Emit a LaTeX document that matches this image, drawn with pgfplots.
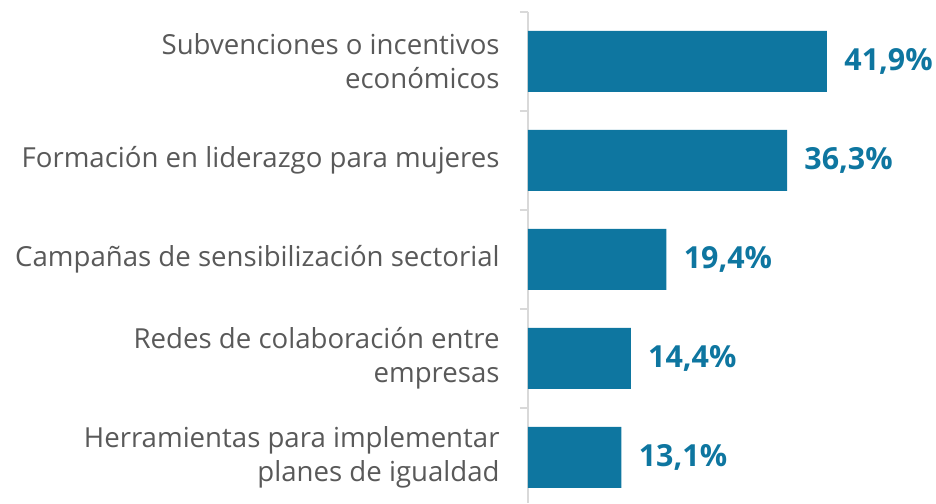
\documentclass[border=0pt]{standalone}
\usepackage{pgfplots}
\pgfplotsset{compat=1.18}
\usepackage{fontspec}
\setmainfont{Open Sans}
\definecolor{barblue}{RGB}{14,118,160}
\definecolor{txtgray}{RGB}{89,89,89}
\definecolor{axgray}{RGB}{217,217,217}
\begin{document}
\begin{tikzpicture}
\begin{axis}[
  at={(0,0)}, anchor=south west,
  scale only axis,
  width=178.4pt, height=245.5pt,
  xbar, bar width=30.5pt,
  xmin=0, xmax=50,
  ymin=-0.5, ymax=4.46,
  y dir=reverse,
  hide x axis,
  axis y line*=left,
  y axis line style={-, draw=axgray, line width=1.3pt},
  ytick={0,1,2,3,4},
  yticklabels={{Subvenciones o incentivos\\económicos},{Formación en liderazgo para mujeres},{Campañas de sensibilización sectorial},{Redes de colaboración entre\\empresas},{Herramientas para implementar\\planes de igualdad}},
  major tick length=0pt,
  yticklabel style={align=right, inner sep=0pt, xshift=-14pt, text=txtgray, font=\fontsize{13.8}{17}\selectfont},
  extra y ticks={-0.5,0.5,1.5,2.5,3.5},
  extra y tick labels={},
  extra y tick style={major tick length=4pt, tick align=outside, tick style={draw=axgray, line width=1.3pt}},
  /pgf/number format/assume math mode=true,
  nodes near coords={\pgfmathprintnumber[fixed, fixed zerofill, precision=1, use comma]{\pgfplotspointmeta}\%},
  nodes near coords style={anchor=west, xshift=8.5pt, inner sep=0pt, text=barblue, font=\fontsize{15.2}{17}\selectfont\bfseries},
  clip=false,
]
\addplot[fill=barblue, draw=none] coordinates {(41.9,0) (36.3,1) (19.4,2) (14.4,3) (13.1,4)};
\end{axis}
\pgfresetboundingbox
\useasboundingbox (-264pt,0) rectangle (204pt,251.5pt);
\end{tikzpicture}
\end{document}
